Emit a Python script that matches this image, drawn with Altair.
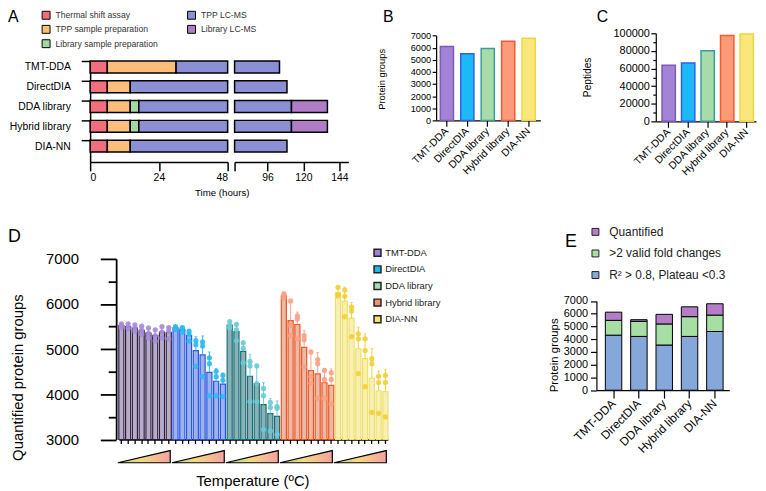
import altair as alt
import numpy as np
import pandas as pd

# ---------------- data ----------------
methods = ["TMT-DDA", "DirectDIA", "DDA library", "Hybrid library", "DIA-NN"]

# Panel A: end time (hours) of each consecutive phase
phases = ["Thermal shift assay", "TPP sample preparation", "Library sample preparation",
          "TPP LC-MS", "Library LC-MS"]
thermal_end = [6, 6, 6, 6, 6]
tpp_prep_end = [30, 14, 14, 14, 14]
lib_prep_end = [30, 14, 17, 17, 14]
tpp_lcms_end = [104, 109, 112, 112, 109]
lib_lcms_end = [104, 109, 136, 136, 109]
time_ticks_left = [0, 24, 48]
time_ticks_right = [96, 120, 144]
break_lo, break_hi, time_max = 48, 74, 150

# Panels B, C
protein_groups = [6100, 5500, 5940, 6540, 6780]
peptides = [63700, 66300, 80100, 97400, 99200]

# Panel D: 8 temperatures x 3 replicates per method
temps = [1, 2, 3, 4, 5, 6, 7, 8]
reps_tmt = [[5560, 5530, 5480], [5560, 5490, 5450], [5540, 5460, 5400], [5510, 5420, 5330],
            [5470, 5350, 5250], [5430, 5300, 5180], [5500, 5380, 5250], [5480, 5400, 5230]]
reps_direct = [[5500, 5480, 5440], [5480, 5460, 5380], [5400, 5330, 5180], [5190, 5100, 4620],
               [5160, 5070, 4390], [4810, 4680, 3970], [4510, 4390, 3970], [4420, 4310, 3950]]
reps_dda = [[5610, 5520, 5470], [5550, 5430, 5190], [5140, 5020, 4700], [4730, 4630, 3840],
            [4630, 4240, 3840], [4130, 3970, 3220], [3820, 3710, 3190], [3730, 3690, 3110]]
reps_hybrid = [[6230, 6190, 6130], [6070, 5530, 5300], [5740, 5670, 5230], [5300, 5210, 4610],
               [4940, 4390, 4240], [4770, 4680, 3910], [4530, 4330, 3910], [4480, 4330, 3790]]
reps_diann = [[6370, 6210, 6180], [6310, 6170, 5720], [5930, 5840, 5280], [5340, 5230, 4460],
              [5230, 4970, 4170], [4790, 4680, 3600], [4400, 4260, 3580], [4420, 4260, 3500]]
reps_all = [reps_tmt, reps_direct, reps_dda, reps_hybrid, reps_diann]

# Panel E (cumulative totals)
e_categories = ["Quantified", ">2 valid fold changes", "R² > 0.8, Plateau <0.3"]
quantified = [6120, 5530, 5950, 6540, 6780]
valid_fc = [5480, 5400, 5195, 5767, 5891]
r2_plateau = [4318, 4217, 3543, 4217, 4605]

# ---------------- styles ----------------
W, H = 758, 483
FONT = "Liberation Sans"
colA_range = ["#F26D7D", "#FDBE7B", "#A2D9A0", "#8B8FD3", "#B07CC5"]
fillBC = ["#A283D6", "#1DB9F6", "#A7DBA7", "#FB9B7A", "#FAE77B"]
strokeBC = ["#7C5BB7", "#2D62E6", "#3B9C9F", "#F45A2B", "#F2D43F"]
fillD = ["#B7ABCB", "#9DB1EC", "#87B2B6", "#E8BAA8", "#F8F0B2"]
strokeD = ["#2E2240", "#2A58E2", "#1D6D78", "#F2541E", "#EFDF6E"]
ptsD = ["#A68BDA", "#2AB9F4", "#6ACBD4", "#F8A286", "#F3CF34"]
legD = ["#9D80D8", "#1FB6F3", "#A6DCA6", "#F4916C", "#F6E46C"]
colE = ["#B47DC8", "#A6DEA4", "#86A7D9"]

# ---------------- panel A ----------------
rows = []
for i, m in enumerate(methods):
    ends = [0, thermal_end[i], tpp_prep_end[i], lib_prep_end[i], tpp_lcms_end[i], lib_lcms_end[i]]
    for k, ph in enumerate(phases):
        if ends[k + 1] > ends[k]:
            rows.append(dict(method=m, phase=ph, start=ends[k], end=ends[k + 1]))
dfA = pd.DataFrame(rows)
dfA_left = dfA[dfA.start < break_lo].copy()
dfA_left["end"] = dfA_left["end"].clip(upper=break_lo)
dfA_right = dfA[dfA.end > break_hi].copy()
dfA_right["start"] = dfA_right["start"].clip(lower=break_hi)

yA_scale = alt.Scale(domain=methods, range=[51, 153], paddingInner=0.4, paddingOuter=0.25, align=0)
yA_axis = alt.Axis(orient="left", offset=-83, title=None, tickSize=9, tickWidth=1.5, domainWidth=1.5,
                   tickOffset=-6, labelOffset=6, labelFontSize=10.5, labelPadding=11)
colA_scale = alt.Scale(domain=phases, range=colA_range)

a_left = alt.Chart(dfA_left).mark_bar(stroke="black", strokeWidth=1.5).encode(
    x=alt.X("start:Q", scale=alt.Scale(domain=[0, break_lo], range=[83, 222], nice=False),
            axis=alt.Axis(orient="bottom", offset=-330, values=time_ticks_left, tickSize=9, tickWidth=1.5,
                          domainWidth=1.5, labelFontSize=10.5, labelPadding=2,
                          title="Time (hours)", titleFontSize=9.8, titleX=216, titleY=31,
                          titleAlign="center", titleBaseline="middle", titleAngle=0)),
    x2="end:Q",
    y=alt.Y("method:N", sort=methods, scale=yA_scale, axis=yA_axis),
    color=alt.Color("phase:N", scale=colA_scale,
                    legend=alt.Legend(orient="none", legendX=34, legendY=0, columns=2, title=None,
                                      symbolType="square", symbolSize=64, symbolStrokeColor="black",
                                      symbolStrokeWidth=1, labelFontSize=8.7, labelColor="#333",
                                      rowPadding=1.5, columnPadding=27, labelOffset=5, padding=0)),
)

a_right = alt.Chart(dfA_right).mark_bar(stroke="black", strokeWidth=1.5).encode(
    x=alt.X("start:Q", scale=alt.Scale(domain=[break_hi, time_max], range=[229, 344], nice=False, zero=False),
            axis=alt.Axis(orient="bottom", offset=-330, values=[break_hi] + time_ticks_right, tickSize=9,
                          tickWidth=1.5, domainWidth=1.5, labelFontSize=10.5, labelPadding=2, title=None,
                          labelExpr=f"datum.value == {break_hi} ? '' : datum.label")),
    x2="end:Q",
    y=alt.Y("method:N", sort=methods, scale=yA_scale, axis=None),
    color=alt.Color("phase:N", scale=colA_scale, legend=None),
)

# ---------------- panels B, C ----------------
def bar_panel(values, x_range, pi, po, align, x_off, y_dom, y_range, y_off, y_values,
              y_label_size, title, title_x, title_y, title_size, tick_major=None):
    df = pd.DataFrame({"method": methods, "value": values})
    yax = dict(orient="left", offset=y_off, values=y_values, labelPadding=1.5, labelFontSize=y_label_size,
               format="d", title=title, titleFontSize=title_size, titleX=title_x, titleY=title_y,
               titleAngle=270, titleAlign="center", titleBaseline="middle", domainWidth=1.2, tickWidth=1.2)
    if tick_major:
        yax["tickSize"] = {"condition": {"test": f"datum.value % {tick_major} === 0", "value": 5}, "value": 3}
        yax["labelExpr"] = f"datum.value % {tick_major} === 0 ? datum.label : ''"
    else:
        yax["tickSize"] = 4
    return alt.Chart(df).mark_bar(strokeWidth=1.5).encode(
        x=alt.X("method:N", sort=methods,
                scale=alt.Scale(domain=methods, range=x_range, paddingInner=pi, paddingOuter=po, align=align),
                axis=alt.Axis(orient="bottom", offset=x_off, labelAngle=-45, labelAlign="right",
                              labelBaseline="middle", tickSize=6, labelFontSize=10.5, labelPadding=3,
                              title=None, domainWidth=1.2, tickWidth=1.2)),
        y=alt.Y("value:Q", scale=alt.Scale(domain=y_dom, range=y_range, nice=False), axis=alt.Axis(**yax)),
        fill=alt.Fill("method:N", scale=alt.Scale(domain=methods, range=fillBC), legend=None),
        stroke=alt.Stroke("method:N", scale=alt.Scale(domain=methods, range=strokeBC), legend=None),
    )

b = bar_panel(protein_groups, [432.7, 538], 0.355, 0.228, 0.45, -372, [0, 7000], [111, 25.3], -432.7,
              list(range(0, 7001, 1000)), 9.3, "Protein groups", -54.7, 69, 9.5)
c = bar_panel(peptides, [654.7, 756], 0.315, 0.2285, 0.7, -371, [0, 100000], [112, 23], -654.7,
              list(range(0, 100001, 10000)), 11, "Peptides", -69.2, 67, 10.3, tick_major=20000)

# ---------------- panel D ----------------
bar_order = [f"{m} {t}" for m in methods for t in temps]
prow, brow = [], []
for m, reps in zip(methods, reps_all):
    for t, trip in zip(temps, reps):
        bid = f"{m} {t}"
        for v in trip:
            prow.append(dict(method=m, bar=bid, value=v))
        arr = np.array(trip, dtype=float)
        brow.append(dict(method=m, bar=bid, mean=arr.mean(), upper=arr.mean() + arr.std(ddof=1)))
dfD_pts = pd.DataFrame(prow)
dfD_bar = pd.DataFrame(brow)

xD_scale = alt.Scale(domain=bar_order, range=[112, 384], paddingInner=0.25, paddingOuter=0)
yD_scale = alt.Scale(domain=[3000, 7000], range=[433.5, 251], nice=False, zero=False)
xD_axis = alt.Axis(orient="bottom", offset=-49.5, labels=False, tickSize=4, tickWidth=1.3, domainWidth=1.8,
                   title="Temperature (ºC)", titleFontSize=15, titleX=247, titleY=41.5, titleAlign="center",
                   titleBaseline="middle", titleAngle=0)
yD_axis = alt.Axis(orient="left", offset=-109.3, values=list(range(3000, 7001, 500)), format="d",
                   tickSize={"condition": {"test": "datum.value % 1000 === 0", "value": 16}, "value": 8},
                   labelExpr="datum.value % 1000 === 0 ? datum.label : ''",
                   tickWidth=1.8, domainWidth=1.8, labelFontSize=15, labelPadding=22,
                   title="Quantified protein groups", titleFontSize=15, titleX=-99.3, titleY=370.5,
                   titleAngle=270, titleAlign="center", titleBaseline="middle")
xD = alt.X("bar:N", sort=bar_order, scale=xD_scale, axis=xD_axis)
ptsD_scale = alt.Scale(domain=methods, range=ptsD)

d_bars = alt.Chart(dfD_bar).mark_bar(strokeWidth=1.2).encode(
    x=xD, y=alt.Y("mean:Q", scale=yD_scale, axis=yD_axis), y2=alt.datum(3000),
    fill=alt.Fill("method:N", scale=alt.Scale(domain=methods, range=fillD), legend=None),
    stroke=alt.Stroke("method:N", scale=alt.Scale(domain=methods, range=strokeD), legend=None),
)
d_err = alt.Chart(dfD_bar).mark_rule(strokeWidth=1).encode(
    x=xD, y=alt.Y("mean:Q", scale=yD_scale, axis=yD_axis), y2="upper:Q",
    color=alt.Color("method:N", scale=ptsD_scale, legend=None),
)
d_cap = alt.Chart(dfD_bar).mark_tick(thickness=1, size=3).encode(
    x=xD, y=alt.Y("upper:Q", scale=yD_scale, axis=yD_axis),
    color=alt.Color("method:N", scale=ptsD_scale, legend=None),
)
d_pts = alt.Chart(dfD_pts).mark_circle(size=28, opacity=0.9).encode(
    x=xD, y=alt.Y("value:Q", scale=yD_scale, axis=yD_axis),
    color=alt.Color("method:N", scale=ptsD_scale, legend=None),
)
d_main = alt.layer(d_bars, d_err, d_cap, d_pts)

d_legend = alt.Chart(dfD_bar).mark_square(opacity=0).encode(
    x=alt.X("bar:N", sort=bar_order, scale=xD_scale, axis=None),
    y=alt.Y("mean:Q", scale=yD_scale, axis=None),
    color=alt.Color("method:N", scale=alt.Scale(domain=methods, range=legD),
                    legend=alt.Legend(orient="none", legendX=368.7, legendY=240, title=None,
                                      symbolType="square", symbolSize=49, symbolOpacity=1,
                                      symbolStrokeColor="#222", symbolStrokeWidth=1.5,
                                      labelFontSize=9.5, labelColor="#222", rowPadding=2.8,
                                      labelOffset=3, padding=0)),
)

tri = pd.DataFrame({
    "group": np.repeat(np.arange(len(methods)), 2),
    "pos": np.array([[g, g + 0.97] for g in range(len(methods))]).ravel(),
    "h": [0, 1] * len(methods),
})
grad = alt.LinearGradient(gradient="linear", x1=0, x2=1, y1=0, y2=0,
                          stops=[alt.GradientStop(color="#A9CF8E", offset=0),
                                 alt.GradientStop(color="#F2DB84", offset=0.45),
                                 alt.GradientStop(color="#F6A09E", offset=1)])
d_tri = alt.Chart(tri).mark_area(color=grad, stroke="black", strokeWidth=1.2, interpolate="linear").encode(
    x=alt.X("pos:Q", scale=alt.Scale(domain=[0, len(methods)], range=[111, 384], nice=False), axis=None),
    y=alt.Y("h:Q", scale=alt.Scale(domain=[0, 1], range=[457, 444.7], nice=False), axis=None),
    y2=alt.datum(0),
    detail="group:N",
)

# ---------------- panel E ----------------
erows = []
for i, m in enumerate(methods):
    erows.append(dict(method=m, cat=e_categories[2], lo=0, hi=r2_plateau[i]))
    erows.append(dict(method=m, cat=e_categories[1], lo=r2_plateau[i], hi=valid_fc[i]))
    erows.append(dict(method=m, cat=e_categories[0], lo=valid_fc[i], hi=quantified[i]))
dfE = pd.DataFrame(erows)
e = alt.Chart(dfE).mark_bar(stroke="black", strokeWidth=1).encode(
    x=alt.X("method:N", sort=methods,
            scale=alt.Scale(domain=methods, range=[594.7, 729], paddingInner=0.35, paddingOuter=0.298, align=0.59),
            axis=alt.Axis(orient="bottom", offset=-99.3, labelAngle=-45, labelAlign="right",
                          labelBaseline="middle", tickSize=8, labelFontSize=12, labelPadding=3, title=None,
                          domainWidth=1.2, tickWidth=1.2)),
    y=alt.Y("lo:Q", scale=alt.Scale(domain=[0, 7000], range=[383.7, 293.5], nice=False),
            axis=alt.Axis(orient="left", offset=-594.7, values=list(range(0, 7001, 1000)), tickSize=6,
                          format="d", labelPadding=3, labelFontSize=11, title="Protein groups", titleFontSize=11.5,
                          titleX=-42, titleY=348, titleAngle=270, titleAlign="center",
                          titleBaseline="middle", domainWidth=1.2, tickWidth=1.2)),
    y2="hi:Q",
    color=alt.Color("cat:N", scale=alt.Scale(domain=e_categories, range=colE),
                    legend=alt.Legend(orient="none", legendX=587.7, legendY=217.7, title=None,
                                      symbolType="square", symbolSize=49, symbolStrokeColor="#222",
                                      symbolStrokeWidth=1, labelFontSize=12, labelColor="#222",
                                      rowPadding=9.8, labelOffset=8, padding=0)),
)

# ---------------- panel letters ----------------
def letter(t, x, y, size):
    return alt.Chart(pd.DataFrame({"t": [t]})).mark_text(
        fontSize=size, align="left", baseline="alphabetic", color="black").encode(
        text="t:N", x=alt.value(x), y=alt.value(y))

letters = [letter("A", 0, 12, 16), letter("B", 379, 12, 16), letter("C", 595, 12, 16),
           letter("D", 0, 234, 18), letter("E", 563, 239, 18)]

chart = alt.layer(a_left, a_right, b, c, d_main, d_legend, d_tri, e, *letters).resolve_scale(
    x="independent", y="independent", color="independent", fill="independent", stroke="independent"
).properties(
    width=W, height=H, padding=0, autosize=alt.AutoSizeParams(type="none")
).configure(font=FONT).configure_view(stroke=None).configure_axis(
    grid=False, domainColor="black", tickColor="black", labelColor="black", titleColor="black",
    titleFontWeight="normal", labelFont=FONT, titleFont=FONT
).configure_legend(labelFont=FONT)

chart.save("out.html", embed_options={"renderer": "svg", "actions": False})
